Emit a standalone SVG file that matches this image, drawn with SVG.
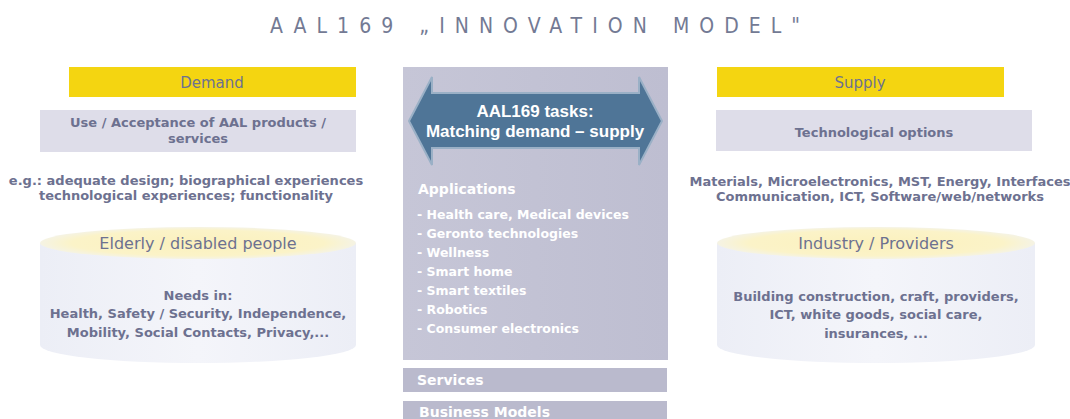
<svg xmlns="http://www.w3.org/2000/svg" width="1070" height="419" viewBox="0 0 1070 419">
  <defs>
    <style>
      .t { font-family: "DejaVu Sans", Verdana, sans-serif; fill: #6d7190; }
      .b { font-weight: bold; font-size: 13px; }
      .h { font-size: 16px; }
      .w { font-family: "DejaVu Sans", Verdana, sans-serif; fill: #ffffff; font-weight: bold; }
      .yel { fill: #f4d511; }
      .gbox { fill: #dedde9; }
    </style>
    <linearGradient id="panel" x1="0" y1="0" x2="1" y2="0">
      <stop offset="0" stop-color="#c6c6d7"/>
      <stop offset="1" stop-color="#bebed1"/>
    </linearGradient>
    <linearGradient id="cyl" x1="0" y1="0" x2="1" y2="0">
      <stop offset="0" stop-color="#eceef6"/>
      <stop offset="0.5" stop-color="#f4f5fa"/>
      <stop offset="1" stop-color="#eceef6"/>
    </linearGradient>
    <radialGradient id="top" cx="0.5" cy="0.5" r="0.5">
      <stop offset="0" stop-color="#fbf1bd"/>
      <stop offset="0.8" stop-color="#fbf3c8"/>
      <stop offset="1" stop-color="#f5f3e4"/>
    </radialGradient>
  </defs>
  <rect width="1070" height="419" fill="#ffffff"/>

  <text x="270" y="33" font-family="'Liberation Sans Narrow','DejaVu Sans Condensed','Liberation Sans',sans-serif" font-size="21" fill="#737a94" textLength="530" lengthAdjust="spacing">AAL169 „INNOVATION MODEL"</text>

  <g id="demand">
    <rect class="yel" x="69" y="67" width="287" height="30"/>
    <text class="t" x="212" y="88" font-size="15" text-anchor="middle" fill="#7a7b96">Demand</text>
  </g>
  <g id="use-acceptance">
    <rect class="gbox" x="40" y="110" width="316" height="42"/>
    <text class="t b" x="198" y="127" text-anchor="middle">Use / Acceptance of AAL products /</text>
    <text class="t b" x="198" y="143" text-anchor="middle">services</text>
  </g>
  <g id="demand-examples">
    <text class="t b" x="186" y="185" text-anchor="middle">e.g.: adequate design; biographical experiences</text>
    <text class="t b" x="186" y="200" text-anchor="middle">technological experiences; functionality</text>
  </g>
  <g id="elderly">
    <path d="M40,243 L40,345 A158,18 0 0 0 356,345 L356,243 Z" fill="url(#cyl)"/>
    <ellipse cx="198" cy="243" rx="158" ry="16" fill="url(#top)"/>
    <text class="t h" x="198" y="249" text-anchor="middle">Elderly / disabled people</text>
    <text class="t b" x="198" y="300" text-anchor="middle">Needs in:</text>
    <text class="t b" x="198" y="318" text-anchor="middle">Health, Safety / Security, Independence,</text>
    <text class="t b" x="198" y="337" text-anchor="middle">Mobility, Social Contacts, Privacy,...</text>
  </g>

  <g id="supply">
    <rect class="yel" x="717" y="67" width="287" height="30"/>
    <text class="t" x="860" y="88" font-size="15" text-anchor="middle" fill="#7a7b96">Supply</text>
  </g>
  <g id="tech-options">
    <rect class="gbox" x="716" y="110" width="316" height="41"/>
    <text class="t b" x="874" y="137" text-anchor="middle">Technological options</text>
  </g>
  <g id="supply-examples">
    <text class="t b" x="880" y="186" font-size="12.4" text-anchor="middle">Materials, Microelectronics, MST, Energy, Interfaces</text>
    <text class="t b" x="880" y="201" text-anchor="middle">Communication, ICT, Software/web/networks</text>
  </g>
  <g id="industry">
    <path d="M717,243 L717,345 A159,18 0 0 0 1035,345 L1035,243 Z" fill="url(#cyl)"/>
    <ellipse cx="876" cy="243" rx="159" ry="16" fill="url(#top)"/>
    <text class="t h" x="876" y="249" text-anchor="middle">Industry / Providers</text>
    <text class="t b" x="876" y="301" text-anchor="middle">Building construction, craft, providers,</text>
    <text class="t b" x="876" y="319" text-anchor="middle">ICT, white goods, social care,</text>
    <text class="t b" x="876" y="338" text-anchor="middle">insurances, ...</text>
  </g>

  <g id="applications">
    <rect x="403" y="67" width="265" height="293" fill="url(#panel)"/>
    <text class="w" x="418" y="194" font-size="14">Applications</text>
    <g class="w" font-size="12.5">
      <text x="417" y="219">- Health care, Medical devices</text>
      <text x="417" y="238">- Geronto technologies</text>
      <text x="417" y="257">- Wellness</text>
      <text x="417" y="276">- Smart home</text>
      <text x="417" y="295">- Smart textiles</text>
      <text x="417" y="314">- Robotics</text>
      <text x="417" y="333">- Consumer electronics</text>
    </g>
  </g>
  <g id="tasks">
    <path d="M409,121 L432,77 L432,93 L639,93 L639,77 L662,121 L639,165 L639,148 L432,148 L432,165 Z" fill="#4f7597" stroke="#9ab0c6" stroke-width="2" stroke-linejoin="miter"/>
    <text x="535" y="117" font-family="'Liberation Sans', Arial, sans-serif" font-weight="bold" fill="#ffffff" font-size="17" text-anchor="middle">AAL169 tasks:</text>
    <text x="535" y="137" font-family="'Liberation Sans', Arial, sans-serif" font-weight="bold" fill="#ffffff" font-size="17" text-anchor="middle">Matching demand – supply</text>
  </g>
  <g id="services">
    <rect x="403" y="368" width="264" height="24" fill="#babacd"/>
    <text class="w" x="417" y="385" font-size="14">Services</text>
  </g>
  <g id="business-models">
    <rect x="403" y="401" width="264" height="24" fill="#babacd"/>
    <text class="w" x="419" y="417" font-size="14">Business Models</text>
  </g>
  <g id="connectors"/>
</svg>
